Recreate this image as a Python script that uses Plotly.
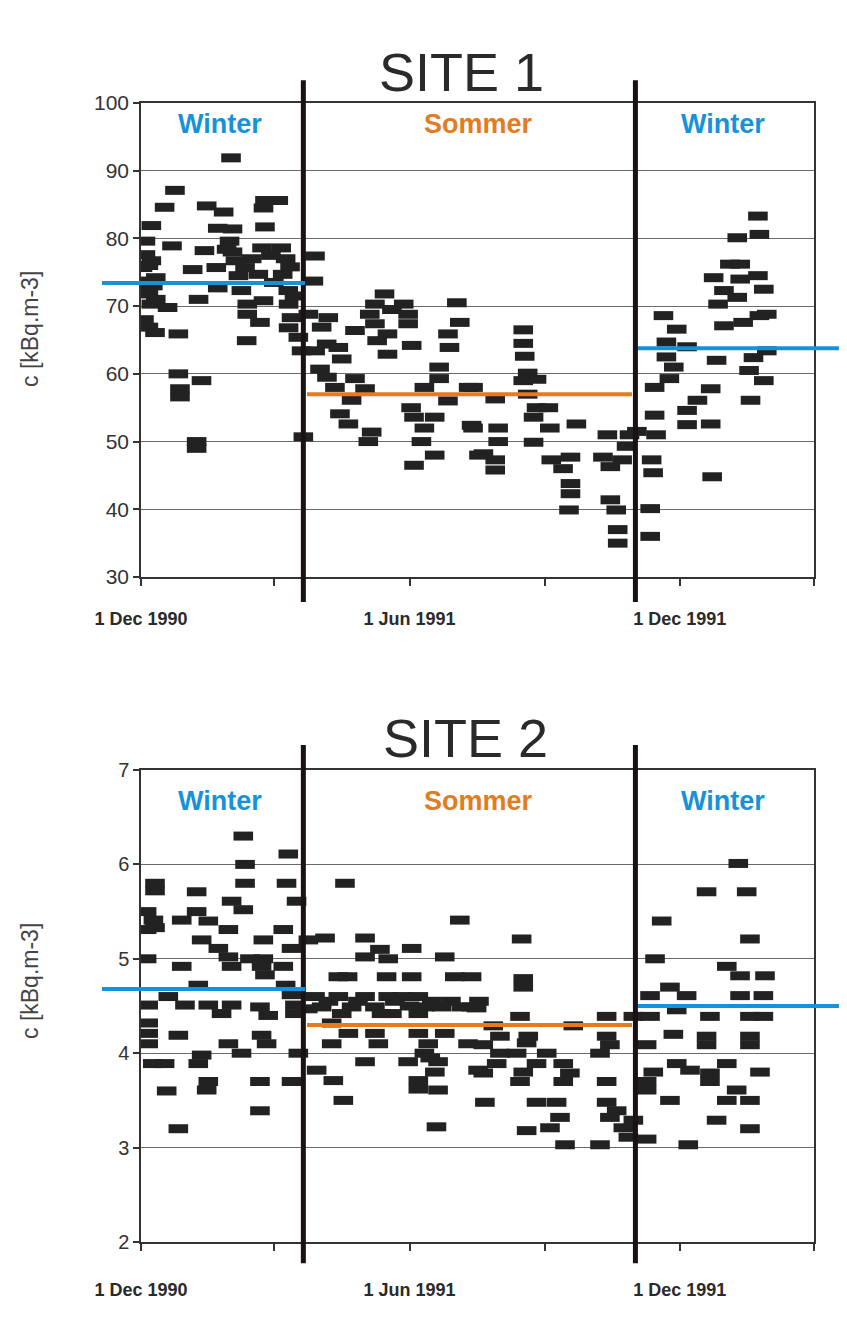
import pandas as pd
import plotly.graph_objects as go

# ---------------- data ----------------
START = pd.Timestamp("1990-12-01")

# SITE 1 : days since 1 Dec 1990, concentration c [kBq.m-3]
site1_day = [
    61, 23, 16, 7, 44.5, 56, 52, 62, 84, 93, 83, 84, 3, 21, 43, 60, 58, 82, 95, 3, 7, 35, 51, 64, 70.5, 79.5,
    101, 96, 3, 10, 1, 5, 7, 18, 39, 52, 68, 72, 83, 72, 80.6, 99.8, 100, 102, 5, 9.5, 25.3, 71.6, 106.6, 108.8,
    25.3, 41, 26.4, 26.4, 37.7, 37.7, 110,
    2, 8, 5, 2, 10, 62, 66, 75, 88, 90, 98, 104, 100,
    117.9, 116.8, 113.4, 126.9, 122.4, 145, 125.8, 133.7, 118, 136, 121.3, 126, 145, 131.4, 151.8, 142.7,
    134.8, 140.5, 156.3, 154,
    165, 158.5, 178, 155, 181, 158.5, 181, 167, 160, 167, 183.4, 170,
    214, 216, 208, 209, 202, 202, 192, 222, 208, 183, 185, 199, 192, 224, 190, 199, 185, 229,
    259, 259, 260, 262, 259, 268, 225, 240, 262, 268, 276, 266, 277, 266, 225, 242, 242, 232, 240, 240, 295,
    278, 291, 286, 291, 291, 290, 316, 313, 318, 326, 331, 329, 318, 322, 323, 323,
    345, 345, 346, 347, 336, 349, 348, 348, 354, 363, 356, 370, 356, 361, 358, 390, 386, 377, 370, 370, 386,
    387, 413, 412, 422, 415, 424, 395, 408, 419, 424, 391, 404, 422, 395, 388, 406, 418, 399, 406, 404, 419, 418,
]
site1_val = [
    91.9, 87.1, 84.6, 81.9, 84.8, 83.9, 81.5, 81.4, 85.6, 85.6, 84.5, 81.7, 79.6, 78.9, 78.2, 79.6, 78.4, 78.6,
    78.6, 77.6, 76.7, 75.4, 75.7, 76.7, 75.7, 74.7, 75.8, 74.7, 73.7, 74.2, 75.7, 71.8, 70.3, 69.8, 71.0, 72.7,
    72.3, 70.3, 70.8, 68.8, 67.6, 72.3, 70.3, 68.3, 66.9, 66.1, 65.9, 64.9, 65.4, 63.4, 60.0, 59.0, 57.8, 56.6,
    50.0, 49.0, 50.7,
    72.5, 73.0, 76.0, 68.0, 71.0, 78.0, 74.5, 77.0, 77.5, 73.5, 77.0, 71.5, 66.8,
    77.4, 73.7, 68.8, 68.3, 66.9, 66.4, 64.4, 63.9, 63.4, 62.2, 60.7, 59.5, 59.3, 58.0, 57.8, 56.1, 54.1, 52.6,
    51.4, 50.0,
    71.8, 70.3, 70.3, 68.8, 68.8, 67.4, 67.4, 65.9, 64.9, 62.9, 64.2, 69.5,
    70.5, 67.6, 65.9, 63.9, 61.0, 59.3, 58.0, 58.0, 56.0, 55.0, 53.6, 53.6, 52.0, 52.4, 50.0, 48.0, 46.5, 48.0,
    66.5, 64.5, 62.6, 60.1, 59.0, 59.2, 58.0, 56.3, 57.0, 55.0, 55.0, 53.6, 52.0, 49.9, 52.0, 52.0, 50.0, 48.2,
    47.3, 45.8, 52.6, 47.3, 47.7, 46.0, 43.8, 42.3, 39.9, 51.0, 47.7, 46.3, 47.3, 51.0, 49.3, 41.4, 39.9, 37.0,
    35.0,
    36.0, 40.1, 47.3, 45.4, 51.5, 51.0, 53.9, 58.0, 68.6, 66.6, 64.7, 64.0, 62.5, 61.0, 59.3, 62.0, 57.8, 56.1,
    54.6, 52.5, 52.6, 44.8, 56.1, 60.5, 59.0, 62.4, 63.4, 67.1, 67.6, 68.6, 68.8, 70.3, 71.3, 72.5, 72.3, 74.2,
    74.0, 74.5, 76.2, 76.2, 80.1, 80.6, 83.3,
]

# SITE 2 : days since 1 Dec 1990, concentration c [kBq.m-3]
site2_day = [
    69.3, 99.8, 70.5, 70.5, 98.6, 105.4, 9.5, 9.5, 37.7, 61.4, 69.3, 3.8, 8.4, 3.8, 9.5, 27.6, 37.7, 45.6, 59.2,
    41.1, 52.4, 59.2, 61.4, 82.9, 96.4, 102, 96.4, 3.8, 27.6, 73.8, 82.9, 81.7, 84, 38.8, 18.5, 4.9, 29.8, 45.6,
    61.4, 54.6, 80.6, 86.2, 102, 104.3, 104.3, 98, 4.9, 4.9, 4.9, 25.3, 59.2, 68.1, 81.7, 85.1, 106.6, 8, 16,
    41.1, 38.8, 45.6, 44.5, 17.4, 80.6, 102, 80.6, 25.3,
    138.2, 124.7, 113.4, 151.8, 161.9, 151.8, 167.5, 183.4, 205.8, 216, 133.7, 140, 166.4, 183.4, 212.6, 224,
    117.9, 122.4, 133.7, 142.7, 151.8, 158.5, 167.5, 176.6, 187.9, 192.4, 203.6, 217.1, 223.8, 136, 187.9,
    129.2, 140.5, 129.2, 158.5, 160.8, 187.9, 194.6, 205.8, 221.6, 151.8, 181, 201.3, 199.1, 119, 130.3, 137.1,
    187.9, 187.9, 201.3, 200.2, 228.4, 192, 196,
    127, 147, 172, 182, 197, 210, 229, 113, 163, 170,
    257.9, 259, 259, 227.4, 238.7, 231.9, 243.2, 243.2, 241, 231.9, 233, 256.8, 262.4, 261.3, 254.5, 268,
    259, 256.8, 286.1, 290.6, 286.1, 292.9, 315.5, 315.5, 317.7, 311, 315.5, 268, 281.6, 283.9, 277.1, 261.3,
    287.3, 311, 315.5, 322.3, 317.7, 326.8, 330.2, 333.6, 274.9, 333.6,
    404.7, 383.2, 410.4, 352.8, 412.6, 348.3, 396.9, 405.9, 422.8, 358.4, 344.9, 369.7, 405.9, 421.7, 344.9,
    363, 385.5, 412.6, 421.7, 360.7, 383.2, 383.2, 342.6, 412.6, 412.6, 363, 372, 347.1, 342.6, 342.6, 396.9,
    385.5, 385.5, 419.4, 403.6, 396.9, 412.6, 358.4, 390, 412.6, 370.8, 342.6,
]
site2_val = [
    6.30, 6.11, 6.00, 5.80, 5.80, 5.61, 5.80, 5.72, 5.71, 5.61, 5.52, 5.50, 5.41, 5.31, 5.33, 5.41, 5.50, 5.40,
    5.31, 5.20, 5.11, 5.02, 4.92, 5.20, 5.31, 5.11, 4.92, 5.00, 4.92, 5.00, 5.00, 4.92, 4.83, 4.72, 4.60, 4.51,
    4.51, 4.51, 4.51, 4.42, 4.49, 4.40, 4.62, 4.51, 4.42, 4.72, 4.32, 4.21, 4.10, 4.19, 4.10, 4.00, 4.19, 4.10,
    4.00, 3.89, 3.89, 3.98, 3.89, 3.70, 3.61, 3.60, 3.70, 3.70, 3.39, 3.20,
    5.80, 5.22, 5.20, 5.22, 5.10, 5.02, 5.00, 5.11, 5.02, 5.41, 4.81, 4.81, 4.81, 4.81, 4.81, 4.81,
    4.60, 4.49, 4.60, 4.49, 4.60, 4.49, 4.60, 4.60, 4.60, 4.49, 4.49, 4.49, 4.49, 4.42, 4.42,
    4.32, 4.21, 4.10, 4.21, 4.10, 4.21, 4.10, 4.21, 4.10, 3.91, 3.91, 3.91, 3.80, 3.82, 3.71, 3.50,
    3.71, 3.62, 3.61, 3.22, 3.82, 4.00, 3.95,
    4.55, 4.55, 4.55, 4.50, 4.55, 4.55, 4.55, 4.47, 4.42, 4.42,
    5.21, 4.79, 4.70, 4.48, 4.29, 4.09, 4.18, 4.00, 3.89, 3.79, 3.48, 4.39, 4.18, 4.11, 4.00, 3.89,
    3.80, 3.70, 3.89, 3.79, 3.70, 4.29, 4.39, 4.18, 4.09, 4.00, 3.70, 3.48, 3.48, 3.32, 3.21, 3.18,
    3.03, 3.03, 3.48, 3.39, 3.32, 3.21, 3.11, 4.39, 4.00, 3.29,
    6.01, 5.71, 5.71, 5.40, 5.21, 5.00, 4.92, 4.82, 4.82, 4.70, 4.61, 4.61, 4.61, 4.61, 4.39,
    4.46, 4.39, 4.39, 4.39, 4.20, 4.18, 4.09, 4.09, 4.18, 4.09, 3.89, 3.82, 3.80, 3.70, 3.61, 3.89,
    3.79, 3.70, 3.80, 3.61, 3.50, 3.50, 3.50, 3.29, 3.20, 3.03, 3.09,
]

# season boundaries and seasonal means
season_bounds = ["1991-03-21", "1991-11-01"]
season_names = ["Winter", "Sommer", "Winter"]
site1_means = [73.4, 57.0, 63.8]
site2_means = [4.68, 4.30, 4.50]

x_tickvals = ["1990-12-01", "1991-03-01", "1991-06-01", "1991-09-01", "1991-12-01", "1992-03-01"]
x_ticktext = ["1 Dec 1990", "", "1 Jun 1991", "", "1 Dec 1991", ""]
x_range = ["1990-12-01", "1992-03-01"]

# ---------------- styling ----------------
W, H = 847, 1334
FONT = "Liberation Sans, Arial, sans-serif"
BLUE = "#1592DA"
ORANGE = "#E27C1E"
INK = "#222222"
GRID = "#6a6a6a"

def to_dates(days):
    return START + pd.to_timedelta(days, unit="D")

fig = go.Figure()

for i, (days, vals) in enumerate([(site1_day, site1_val), (site2_day, site2_val)]):
    fig.add_trace(go.Scatter(
        x=to_dates(days), y=vals, mode="markers",
        xaxis="x" if i == 0 else "x2", yaxis="y" if i == 0 else "y2",
        marker=dict(symbol="line-ew", size=14, color=INK,
                    line=dict(color=INK, width=9)),
        showlegend=False, hoverinfo="x+y",
    ))

xdom = [141 / W, 814 / W]
ydom1 = [1 - 577 / H, 1 - 103 / H]
ydom2 = [1 - 1242 / H, 1 - 770 / H]

common_x = dict(
    type="date", range=x_range, domain=xdom, tickmode="array",
    tickvals=x_tickvals, ticktext=x_ticktext, ticks="outside", ticklen=7,
    tickcolor="#333", tickwidth=1.5, showgrid=False, showline=True,
    linecolor="#333", linewidth=1.5, mirror=True, zeroline=False,
    tickfont=dict(family=FONT, size=18, color="#2a2a2a", weight="bold"),
    automargin=False,
)
common_y = dict(
    ticks="outside", ticklen=6, tickcolor="#333", tickwidth=1.5,
    showgrid=True, gridcolor=GRID, gridwidth=1.3, showline=True,
    linecolor="#333", linewidth=1.5, mirror=True, zeroline=False,
    automargin=False,
)

fig.update_layout(
    width=W, height=H,
    margin=dict(l=0, r=0, t=0, b=0),
    paper_bgcolor="white", plot_bgcolor="white",
    xaxis=dict(common_x, anchor="y", ticklabelstandoff=18),
    xaxis2=dict(common_x, anchor="y2", ticklabelstandoff=24),
    yaxis=dict(common_y, anchor="x", domain=ydom1, range=[30, 100], dtick=10,
               tickfont=dict(family=FONT, size=21, color="#333")),
    yaxis2=dict(common_y, anchor="x2", domain=ydom2, range=[2, 7], dtick=1,
                tickfont=dict(family=FONT, size=20, color="#333")),
)

shapes = []
annotations = []
panels = [
    ("x", "y", site1_means, "SITE 1", 72, 124, 329, (-0.053, 1.048)),
    ("x2", "y2", site2_means, "SITE 2", 738, 801, 981, (-0.045, 1.053)),
]
mean_spans = [(-0.058, 0.2437), (0.2467, 0.7295), (0.7385, 1.037)]
label_x = [220, 478, 723]

for xa, ya, means, title, ty, ly, yty, (vy0, vy1) in panels:
    for b in season_bounds:
        shapes.append(dict(type="line", xref=xa, yref=f"{ya} domain",
                           x0=b, x1=b, y0=vy0, y1=vy1,
                           line=dict(color="#1a1212", width=5), layer="above"))
    for k, m in enumerate(means):
        shapes.append(dict(type="line", xref=f"{xa} domain", yref=ya,
                           x0=mean_spans[k][0], x1=mean_spans[k][1], y0=m, y1=m,
                           line=dict(color=ORANGE if k == 1 else BLUE, width=4),
                           layer="above"))
    annotations.append(dict(text=title, xref="paper", yref="paper",
                            x=(462 if title == "SITE 1" else 465) / W, y=1 - ty / H,
                            showarrow=False, xanchor="center", yanchor="middle",
                            font=dict(family=FONT, size=54, color="#2a2a2a")))
    for k, name in enumerate(season_names):
        annotations.append(dict(text=f"<b>{name}</b>", xref="paper", yref="paper",
                                x=label_x[k] / W, y=1 - ly / H, showarrow=False,
                                xanchor="center", yanchor="middle",
                                font=dict(family=FONT, size=27,
                                          color=ORANGE if k == 1 else BLUE)))
    annotations.append(dict(text="c [kBq.m-3]", xref="paper", yref="paper",
                            x=30 / W, y=1 - yty / H, showarrow=False, textangle=-90,
                            xanchor="center", yanchor="middle",
                            font=dict(family=FONT, size=23, color="#444")))

fig.update_layout(shapes=shapes, annotations=annotations)
fig.write_html("out.html")
